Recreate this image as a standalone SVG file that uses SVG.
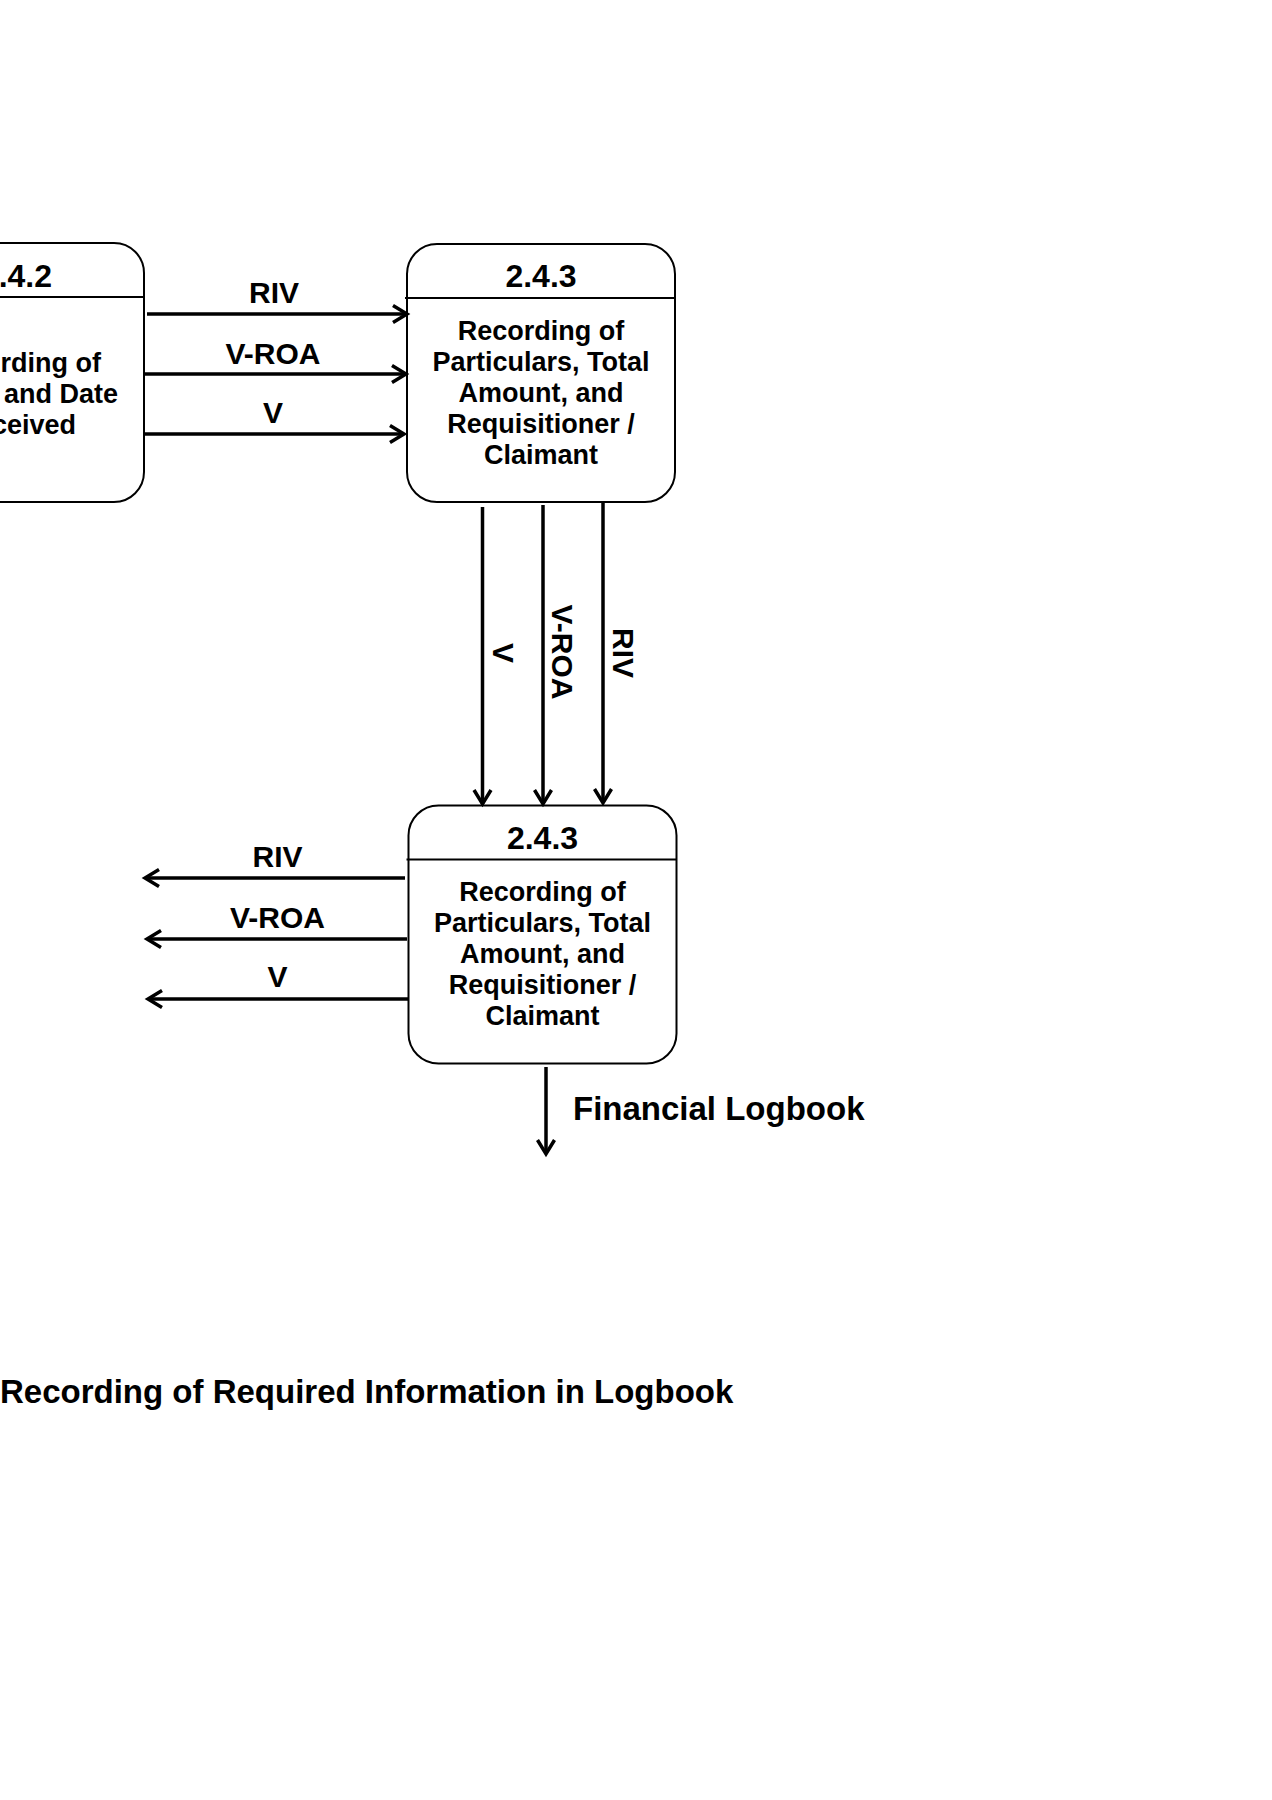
<svg xmlns="http://www.w3.org/2000/svg" width="1272" height="1800" viewBox="0 0 1272 1800">
<style>
.box{fill:#fff;stroke:#000;stroke-width:2}
.div{stroke:#000;stroke-width:2}
.t{font-family:"Liberation Sans",Arial,sans-serif;font-weight:bold;fill:#000}
.title{font-size:32px;text-anchor:middle}
.body{font-size:27px;text-anchor:middle}
.lbl{font-size:30px;text-anchor:middle}
.flow{stroke:#000;stroke-width:3.5;fill:none;marker-end:url(#arr)}
</style>
<defs>
<marker id="arr" markerUnits="userSpaceOnUse" markerWidth="22" markerHeight="22" viewBox="0 0 22 22" refX="18" refY="11" orient="auto" overflow="visible">
<path d="M4,2.5 L18,11 L4,19.5" fill="none" stroke="#000" stroke-width="3.5" stroke-linejoin="miter"/>
</marker>
</defs>
<rect width="1272" height="1800" fill="#fff"/>

<g id="node-242">
<rect class="box" x="-124" y="243" width="268" height="259" rx="30" ry="30"/>
<line class="div" x1="-124" y1="297" x2="144" y2="297"/>
<text class="t" font-size="32" text-anchor="end" x="52" y="287">.4.2</text>
<text class="t" font-size="27" text-anchor="end" x="101" y="372">rding of</text>
<text class="t" font-size="27" text-anchor="end" x="118" y="403">and Date</text>
<text class="t" font-size="27" text-anchor="end" x="76" y="434">ceived</text>
</g>

<g id="node-243a">
<rect class="box" x="407" y="244" width="268" height="258" rx="30" ry="30"/>
<line class="div" x1="405" y1="298" x2="675" y2="298"/>
<text class="t title" x="541" y="287">2.4.3</text>
<text class="t body" x="541" y="340">Recording of</text>
<text class="t body" x="541" y="371">Particulars, Total</text>
<text class="t body" x="541" y="402">Amount, and</text>
<text class="t body" x="541" y="433">Requisitioner /</text>
<text class="t body" x="541" y="464">Claimant</text>
</g>

<g id="node-243b">
<rect class="box" x="408.5" y="805.5" width="268" height="258" rx="30" ry="30"/>
<line class="div" x1="406.5" y1="859.5" x2="676.5" y2="859.5"/>
<text class="t title" x="542.5" y="849">2.4.3</text>
<text class="t body" x="542.5" y="901">Recording of</text>
<text class="t body" x="542.5" y="932">Particulars, Total</text>
<text class="t body" x="542.5" y="963">Amount, and</text>
<text class="t body" x="542.5" y="994">Requisitioner /</text>
<text class="t body" x="542.5" y="1025">Claimant</text>
</g>

<g id="connectors">
<line class="flow" x1="147" y1="314" x2="407" y2="314"/>
<line class="flow" x1="145" y1="374" x2="406" y2="374"/>
<line class="flow" x1="145" y1="434" x2="404" y2="434"/>
<text class="t lbl" x="274" y="303">RIV</text>
<text class="t lbl" x="273" y="364">V-ROA</text>
<text class="t lbl" x="273" y="423">V</text>

<line class="flow" x1="482.5" y1="507" x2="482.5" y2="804"/>
<line class="flow" x1="543" y1="505" x2="543" y2="804"/>
<line class="flow" x1="603" y1="502" x2="603" y2="803"/>
<text class="t lbl" transform="translate(493,653) rotate(90)">V</text>
<text class="t lbl" transform="translate(552,652) rotate(90)">V-ROA</text>
<text class="t lbl" transform="translate(613,653) rotate(90)">RIV</text>

<line class="flow" x1="405" y1="878" x2="145" y2="878"/>
<line class="flow" x1="407" y1="939" x2="147" y2="939"/>
<line class="flow" x1="409" y1="999" x2="148" y2="999"/>
<text class="t lbl" x="277.5" y="867">RIV</text>
<text class="t lbl" x="277.5" y="928">V-ROA</text>
<text class="t lbl" x="277.5" y="987">V</text>

<line class="flow" x1="546" y1="1067" x2="546" y2="1154"/>
<text class="t" font-size="33" x="573" y="1120">Financial Logbook</text>
</g>

<text class="t" font-size="33" x="0" y="1403">Recording of Required Information in Logbook</text>
</svg>
